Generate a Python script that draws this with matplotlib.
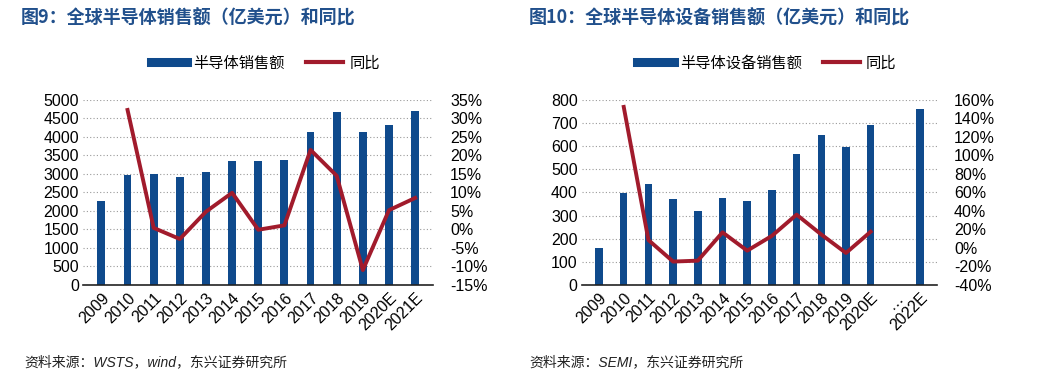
import matplotlib
matplotlib.use("Agg")
import matplotlib.pyplot as plt
from matplotlib.lines import Line2D
from matplotlib.ticker import FuncFormatter, MultipleLocator

# 图9 数据
years1 = ["2009", "2010", "2011", "2012", "2013", "2014", "2015", "2016",
          "2017", "2018", "2019", "2020E", "2021E"]
sales1 = [2260, 2983, 2995, 2916, 3056, 3358, 3352, 3389, 4122, 4688, 4123, 4331, 4694]
yoy1 = [None, 32.3, 0.4, -2.6, 4.8, 9.9, -0.1, 1.1, 21.5, 14.5, -11.0, 5.2, 8.5]

# 图10 数据（"…" 为空位）
years2 = ["2009", "2010", "2011", "2012", "2013", "2014", "2015", "2016",
          "2017", "2018", "2019", "2020E", "…", "2022E"]
sales2 = [159, 398, 435, 370, 320, 375, 365, 411, 566, 650, 598, 690, None, 760]
yoy2 = [None, 152.5, 8.5, -14.8, -13.8, 16.8, -3.0, 13.0, 36.0, 14.5, -5.5, 17.5, None, None]

BLUE = "#0F4A8C"
RED = "#A11B2C"
TITLE_C = "#21508C"
NUM_FONT = ["Liberation Sans", "Noto Sans CJK SC"]
CJK_FONT = ["Noto Sans CJK SC", "DejaVu Sans"]

plt.rcParams["font.family"] = NUM_FONT

fig = plt.figure(figsize=(10.52, 3.86), dpi=100)


def draw(rect, cats, bars, line, ylim, ystep, y2lim, y2step, bar_lbl, title, src, title_x, src_x):
    ax = fig.add_axes(rect)
    x = list(range(len(cats)))
    bx = [i for i, v in zip(x, bars) if v is not None]
    bv = [v for v in bars if v is not None]
    ax.bar(bx, bv, width=0.3, color=BLUE, zorder=2)
    ax.set_xlim(-0.7, len(cats) - 0.3)
    ax.set_ylim(*ylim)
    ax.yaxis.set_major_locator(MultipleLocator(ystep))
    ax.set_xticks(x)
    ax.set_xticklabels(cats, rotation=45, ha="right", rotation_mode="anchor")
    ax.tick_params(axis="both", length=0, labelsize=11.5, pad=3)
    ax.tick_params(axis="x", pad=4)
    for s in ["top", "right", "left"]:
        ax.spines[s].set_visible(False)
    ax.spines["bottom"].set_color("#222222")
    ax.spines["bottom"].set_linewidth(1.2)
    ax.grid(axis="y", linestyle=(0, (1, 2)), color="#9a9a9a", linewidth=0.8, zorder=0)
    ax.set_axisbelow(True)

    ax2 = ax.twinx()
    lx = [i for i, v in zip(x, line) if v is not None]
    lv = [v for v in line if v is not None]
    ax2.plot(lx, lv, color=RED, linewidth=2.8, zorder=3)
    ax2.set_ylim(*y2lim)
    ax2.yaxis.set_major_locator(MultipleLocator(y2step))
    ax2.yaxis.set_major_formatter(FuncFormatter(lambda v, p: f"{v:.0f}%"))
    ax2.tick_params(axis="y", length=0, labelsize=11.5, pad=12)
    for s in ["top", "right", "left", "bottom"]:
        ax2.spines[s].set_visible(False)

    handles = [Line2D([0], [0], color=BLUE, linewidth=6.5),
               Line2D([0], [0], color=RED, linewidth=3)]
    ax.legend(handles, [bar_lbl, "同比"], loc="center", bbox_to_anchor=(0.52, 1.2),
              ncol=2, frameon=False, handlelength=2.4, handletextpad=0.4,
              columnspacing=1.4, prop={"family": CJK_FONT, "size": 11})

    fig.text(title_x, 0.952, title, fontsize=13, fontweight="bold", color=TITLE_C,
             family=CJK_FONT, va="center", ha="left")
    fig.text(src_x, 0.062, src, fontsize=10, style="italic", color="#222222",
             family=NUM_FONT, va="center", ha="left")


draw([0.079, 0.262, 0.333, 0.479], years1, sales1, yoy1, (0, 5000), 500, (-15, 35), 5,
     "半导体销售额", "图9：全球半导体销售额（亿美元）和同比",
     "资料来源：WSTS，wind，东兴证券研究所", 0.02, 0.023)
draw([0.553, 0.262, 0.338, 0.479], years2, sales2, yoy2, (0, 800), 100, (-40, 160), 20,
     "半导体设备销售额", "图10：全球半导体设备销售额（亿美元）和同比",
     "资料来源：SEMI，东兴证券研究所", 0.503, 0.503)

fig.savefig("out.png", dpi=100)
